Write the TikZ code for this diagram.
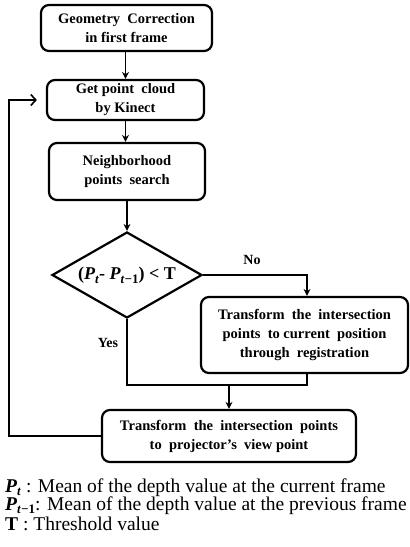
\documentclass[tikz,border=0pt]{standalone}
\usepackage{fontspec}
\setmainfont{Liberation Serif}
\usetikzlibrary{shapes.geometric,arrows.meta}
\newcommand{\PP}[3]{\textbf{\textit{P}}\smash{\raisebox{-#2}{\fontsize{#3}{#3}\selectfont\bfseries #1}}}
\begin{document}
\begin{tikzpicture}[x=1pt,y=-1pt,
  box/.style={draw, line width=2.2pt, rounded corners=8pt, align=center,
    font=\fontsize{14.5}{19}\selectfont\bfseries, inner sep=0pt},
  dec/.style={draw, diamond, line width=2.2pt, inner sep=0pt},
  arr/.style={line width=1.4pt, -{Stealth[length=7pt,width=7pt]}},
  ln/.style={line width=1.4pt},
  lab/.style={font=\fontsize{14}{16}\selectfont\bfseries},
  leg/.style={anchor=base west, inner sep=0pt, font=\fontsize{19.5}{19.5}\selectfont}]
\useasboundingbox (0,0) rectangle (410,547);
\node[box, minimum width=171pt, minimum height=46pt] (b1) at (126.5,28) {Geometry\ \ Correction\\in first frame};
\node[box, minimum width=157pt, minimum height=40pt] (b2) at (125.5,100) {Get point\ \ cloud\\by Kinect};
\node[box, minimum width=156pt, minimum height=57pt] (b3) at (127,171.5) {Neighborhood\\points\ \ search};
\node[dec, minimum width=150pt, minimum height=86pt] (d) at (127,275) {};
\node[font=\fontsize{18}{18}\selectfont\bfseries, inner sep=0pt] (dt) at (d.center) {(\PP{\textit{t}}{4pt}{13}- \PP{\textit{t−}1}{4pt}{13}) < T};
\node[box, minimum width=207pt, minimum height=76pt] (b4) at (304.5,335) {Transform\ \ the\ \ intersection\\points\ \ to current\ \ position\\through\ \ registration};
\node[box, minimum width=254pt, minimum height=52pt] (b5) at (229,436) {Transform\ \ the\ \ intersection\ \ points\\to\ \ projector’s\ \ view point};
\coordinate (no) at (307,275);
\coordinate (j) at (229,385);
\coordinate (fb) at (9,100);
\draw[arr] (b1.south -| b2.north) -- (b2.north);
\draw[arr] (b2.south) -- (b2.south |- b3.north);
\draw[arr] (d.north |- b3.south) -- (d.north);
\draw[arr] (d.east) -- (no) -- (no |- b4.north);
\draw[ln] (d.south) |- (no |- j) -- (no |- b4.south);
\draw[arr] (j) -- (b5.north);
\draw[line width=1.6pt, -{Straight Barb[length=5pt,width=11pt,line width=1.6pt]}, shorten >=9pt] (b5.west) -| (fb) -- (b2.west);
\node[lab] (nol) at (252,260) {No};
\node[lab] (yesl) at (108,343) {Yes};
\node[leg] (l1) at (5,492) {\PP{\textit{t}}{3pt}{13} : Mean of the depth value at the current frame};
\node[leg] (l2) at (5,510) {\PP{\textit{t−}1}{3pt}{13}: Mean of the depth value at the previous frame};
\node[leg] (l3) at (5,530) {\textbf{T} : Threshold value};
\end{tikzpicture}
\end{document}
